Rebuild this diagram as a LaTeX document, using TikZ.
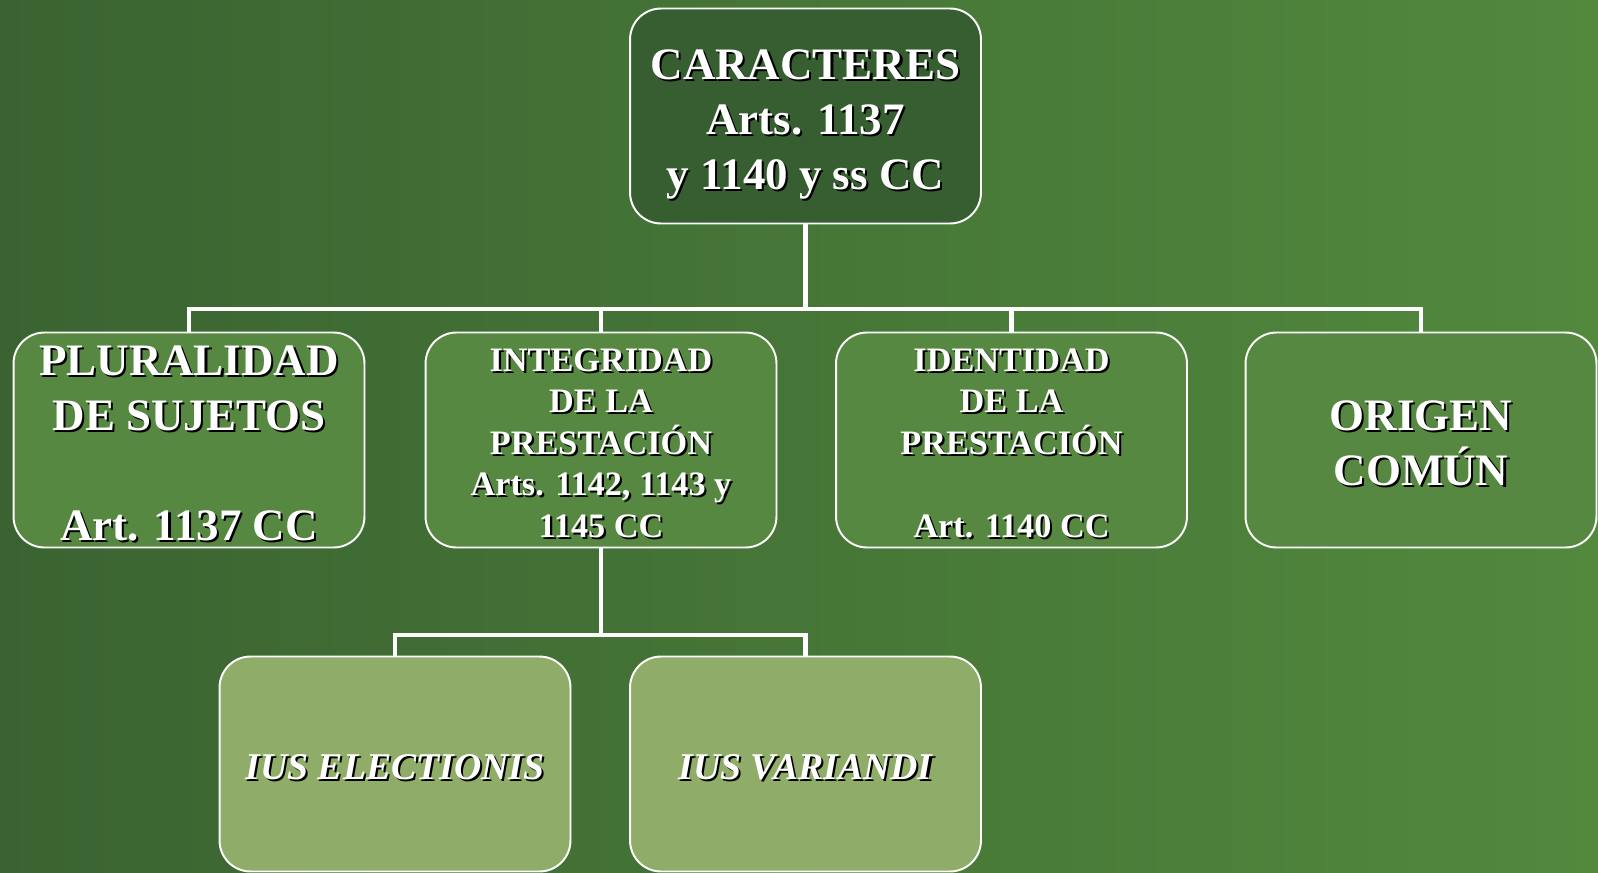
\documentclass[tikz,border=0pt]{standalone}
\usepackage{fontspec}
\setmainfont{Liberation Serif}
\usepackage{tikz}
\usetikzlibrary{positioning,calc,backgrounds}
\definecolor{bgdark}{HTML}{3A6331}
\definecolor{bglight}{HTML}{52893D}
\definecolor{topfill}{HTML}{365E30}
\definecolor{midfill}{HTML}{568841}
\definecolor{lowfill}{HTML}{8FAC68}
\newcommand{\boxlabel}[4][]{%
  \node[txtshadow,#3,#1] at (#2) {#4};
  \node[txt,#3,#1] at (#2) {#4};}

\begin{document}
\begin{tikzpicture}[x=0.02cm, y=-0.02cm]
    \tikzstyle{chart}=[rounded corners=0.62cm,draw=white,line width=1.1pt,minimum width=7.02cm,minimum height=4.3cm]
    \tikzstyle{link}=[draw=white,line width=2.3pt]
    \tikzstyle{txt}=[text=white,align=center,yshift=-0.06cm]
    \tikzstyle{txtshadow}=[text=black,align=center,xshift=1.2pt,yshift=-0.06cm-1.2pt]
    \tikzstyle{bigfont}=[font=\bfseries\fontsize{25.6}{31.3}\selectfont]
    \tikzstyle{midfont}=[font=\bfseries\fontsize{19.5}{23.6}\selectfont]
    \tikzstyle{iusfont}=[font=\bfseries\itshape\fontsize{21.5}{25}\selectfont]
    \useasboundingbox (0,0) rectangle (1598,872);
    % boxes
    \node[chart,fill=topfill] (top) at (805.5,116) {};
    \node[chart,fill=midfill] (plural) at (189,440) {};
    \node[chart,fill=midfill] (integ) at (601,440) {};
    \node[chart,fill=midfill] (ident) at (1011.5,440) {};
    \node[chart,fill=midfill] (origen) at (1421,440) {};
    \node[chart,fill=lowfill] (elect) at (395,764) {};
    \node[chart,fill=lowfill] (variandi) at (805.5,764) {};
    % texts
    \boxlabel[yshift=-0.1cm]{top}{bigfont}{CARACTERES\\Arts. 1137\\y 1140 y ss CC}
    \boxlabel{plural}{bigfont}{PLURALIDAD\\DE SUJETOS\\[31.3pt]Art. 1137 CC}
    \boxlabel{integ}{midfont}{INTEGRIDAD\\DE LA\\PRESTACIÓN\\Arts. 1142, 1143 y\\1145 CC}
    \boxlabel{ident}{midfont}{IDENTIDAD\\DE LA\\PRESTACIÓN\\[23.6pt]Art. 1140 CC}
    \boxlabel{origen}{bigfont}{ORIGEN\\COMÚN}
    \boxlabel{elect}{iusfont}{IUS ELECTIONIS}
    \boxlabel{variandi}{iusfont}{IUS VARIANDI}
    % connectors
    \coordinate (bus) at (805.5,309);
    \coordinate (bus2) at (601,635);
    \begin{scope}[on background layer]
        \shade[left color=bgdark,right color=bglight] (0,0) rectangle (1598,872);
        \foreach \n in {plural,integ,ident,origen}
            \draw[link] (top.south) -- (bus) -| (\n.north);
        \foreach \n in {elect,variandi}
            \draw[link] (integ.south) -- (bus2) -| (\n.north);
    \end{scope}
\end{tikzpicture}
\end{document}
